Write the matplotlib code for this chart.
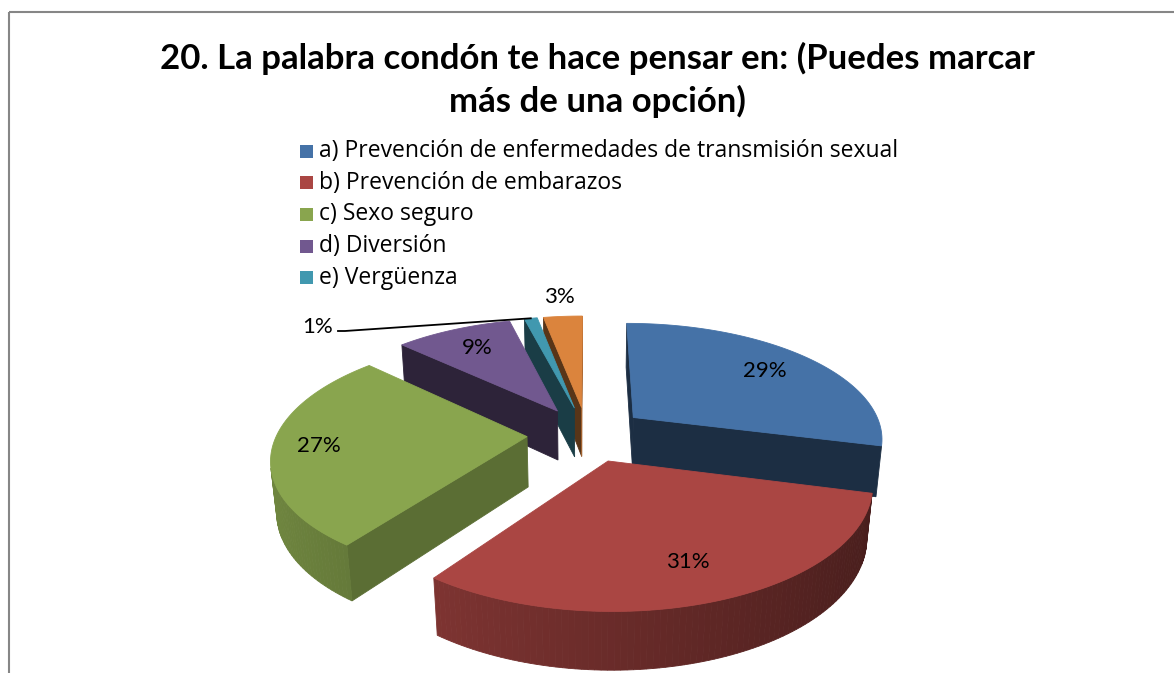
import numpy as np
import matplotlib
matplotlib.use('Agg')
import matplotlib.pyplot as plt
import matplotlib.colors as mcolors
from matplotlib.patches import Polygon, Rectangle

# datos del grafico
title = "20. La palabra condón te hace pensar en: (Puedes marcar\nmás de una opción)"
labels = ['a) Prevención de enfermedades de transmisión sexual',
          'b) Prevención de embarazos',
          'c) Sexo seguro',
          'd) Diversión',
          'e) Vergüenza',
          '']
values = [29, 31, 27, 9, 1, 3]
colors = ['#4572A7', '#AA4643', '#89A54E', '#71588F', '#4198AF', '#DB843D']

# radio de cada etiqueta (None = etiqueta con linea guia)
label_r = [0.75, 0.76, 0.82, 0.75, None, 1.25]

plt.rcParams['font.family'] = ['Lato', 'DejaVu Sans']

W, H = 1174, 673
fig = plt.figure(figsize=(W / 100, H / 100), dpi=100)
ax = fig.add_axes([0, 0, 1, 1])
ax.set_xlim(0, W)
ax.set_ylim(H, 0)
ax.axis('off')

# proyeccion en perspectiva del pastel 3D
CX, CY = 587, 434
FX, FY = 250, 255
SIN_E, COS_E = 0.451, 0.892
K = 0.188
THICK = 0.225
EXPLODE = 0.24
CAM = np.array([0.0, -COS_E / K, SIN_E / K])


def proj(X, Y, Z=0.0):
    w = 1 + K * (Y * COS_E - Z * SIN_E)
    return CX + FX * X / w, CY - FY * (Y * SIN_E + Z * COS_E) / w


def shade(c, f):
    r, g, b = mcolors.to_rgb(c)
    return (r * f, g * f, b * f)


def visible(normal, point):
    return np.dot(normal, CAM - np.asarray(point)) > 0


def poly(pts, color, z):
    ax.add_patch(Polygon(pts, closed=True, facecolor=color, edgecolor=color,
                         linewidth=0.6, zorder=z))


total = sum(values)
ends = np.cumsum(values) / total * 360
starts = ends - np.array(values) / total * 360

slices = []
for i, v in enumerate(values):
    a0, a1 = np.radians(starts[i]), np.radians(ends[i])
    mid = (a0 + a1) / 2
    ox, oy = EXPLODE * np.sin(mid), EXPLODE * np.cos(mid)
    cen = np.array([ox + 0.5 * np.sin(mid), oy + 0.5 * np.cos(mid), 0])
    dist = np.linalg.norm(CAM - cen)
    slices.append((dist, i, a0, a1, mid, ox, oy))

# de atras hacia adelante
slices.sort(key=lambda s: -s[0])

for order, (dist, i, a0, a1, mid, ox, oy) in enumerate(slices):
    z = 2 + order
    c = colors[i]
    n = max(4, int(values[i] * 3))
    t = np.linspace(a0, a1, n)
    xs = ox + np.sin(t)
    ys = oy + np.cos(t)
    top = [proj(ox, oy, 0)] + [proj(x, y, 0) for x, y in zip(xs, ys)]
    bot_apex = proj(ox, oy, -THICK)

    # caras radiales
    for ang, nrm in ((a0, np.array([-np.cos(a0), np.sin(a0), 0])),
                     (a1, np.array([np.cos(a1), -np.sin(a1), 0]))):
        if visible(nrm, (ox, oy, 0)):
            ex, ey = ox + np.sin(ang), oy + np.cos(ang)
            pts = [proj(ox, oy, 0), proj(ex, ey, 0), proj(ex, ey, -THICK), bot_apex]
            poly(pts, shade(c, 0.40 + 0.33 * max(nrm[0], 0)), z)

    # pared exterior
    for k in range(n - 1):
        tm = (t[k] + t[k + 1]) / 2
        nrm = np.array([np.sin(tm), np.cos(tm), 0])
        pm = (ox + np.sin(tm), oy + np.cos(tm), 0)
        if visible(nrm, pm):
            pts = [proj(xs[k], ys[k], 0), proj(xs[k + 1], ys[k + 1], 0),
                   proj(xs[k + 1], ys[k + 1], -THICK), proj(xs[k], ys[k], -THICK)]
            poly(pts, shade(c, 0.62 - 0.2 * np.sin(tm)), z)

    # cara superior
    poly(top, c, z)

    # etiqueta de porcentaje
    r = label_r[i]
    txt = f"{values[i]}%"
    if r is not None:
        lx, ly = proj(ox + r * np.sin(mid), oy + r * np.cos(mid), 0)
        ax.text(lx, ly, txt, ha='center', va='center', fontsize=16,
                color='black', zorder=20)
    else:
        px, py = proj(ox + np.sin(mid), oy + np.cos(mid), 0)
        ax.plot([px, 345, 338], [py, 331, 331], color='black', lw=1.3, zorder=20)
        ax.text(333, 327, txt, ha='right', va='center', fontsize=16,
                color='black', zorder=20)

# titulo
ax.text(597, 80, title, ha='center', va='center', fontsize=25,
        fontweight='bold', linespacing=1.38, zorder=20)

# leyenda
ly0 = 151
for j, (lab, col) in enumerate(zip(labels, colors)):
    if not lab:
        continue
    y = ly0 + j * 31.7
    ax.add_patch(Rectangle((300, y - 6.5), 13, 13, facecolor=col,
                           edgecolor='none', zorder=20))
    ax.text(319, y, lab, ha='left', va='center', fontsize=16.5,
            family=['Open Sans', 'DejaVu Sans'], zorder=20)

# marco del grafico
ax.add_patch(Rectangle((9, 12), 1300, 800, facecolor='none',
                       edgecolor='#868686', lw=1.5, zorder=1))

fig.savefig('out.png', dpi=100)
